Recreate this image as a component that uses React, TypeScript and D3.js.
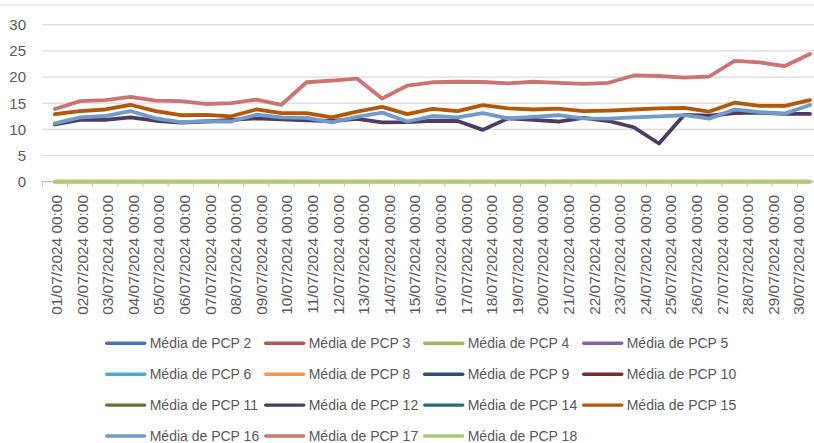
import React from "react";
import * as d3 from "d3";

const dates = [
  "01/07/2024 00:00", "02/07/2024 00:00", "03/07/2024 00:00", "04/07/2024 00:00",
  "05/07/2024 00:00", "06/07/2024 00:00", "07/07/2024 00:00", "08/07/2024 00:00",
  "09/07/2024 00:00", "10/07/2024 00:00", "11/07/2024 00:00", "12/07/2024 00:00",
  "13/07/2024 00:00", "14/07/2024 00:00", "15/07/2024 00:00", "16/07/2024 00:00",
  "17/07/2024 00:00", "18/07/2024 00:00", "19/07/2024 00:00", "20/07/2024 00:00",
  "21/07/2024 00:00", "22/07/2024 00:00", "23/07/2024 00:00", "24/07/2024 00:00",
  "25/07/2024 00:00", "26/07/2024 00:00", "27/07/2024 00:00", "28/07/2024 00:00",
  "29/07/2024 00:00", "30/07/2024 00:00", "31/07/2024 00:00",
];

const yTicks = [0, 5, 10, 15, 20, 25, 30];

const pcp4 = [0, 0, 0, 0, 0, 0, 0, 0, 0, 0, 0, 0, 0, 0, 0, 0, 0, 0, 0, 0, 0, 0, 0, 0, 0, 0, 0, 0, 0, 0, 0];
const pcp12 = [10.95, 11.8, 11.8, 12.3, 11.65, 11.3, 11.5, 11.8, 12.1, 11.9, 11.7, 11.6, 12.0, 11.35, 11.4, 11.65,
  11.6, 9.9, 12.1, 11.8, 11.5, 12.2, 11.6, 10.4, 7.3, 12.75, 12.6, 13.1, 13.2, 12.95, 12.95];
const pcp15 = [12.9, 13.5, 13.8, 14.7, 13.5, 12.7, 12.75, 12.5, 13.8, 13.1, 13.1, 12.3, 13.4, 14.3, 12.9, 13.9,
  13.5, 14.65, 14.0, 13.8, 13.95, 13.5, 13.6, 13.8, 14.0, 14.1, 13.4, 15.1, 14.5, 14.5, 15.6];
const pcp16 = [11.15, 12.3, 12.55, 13.5, 12.1, 11.4, 11.55, 11.5, 12.8, 12.3, 12.2, 11.35, 12.4, 13.2, 11.5, 12.55,
  12.3, 13.1, 12.1, 12.4, 12.7, 12.1, 12.05, 12.3, 12.5, 12.7, 12.05, 13.8, 13.3, 13.0, 14.65];
const pcp17 = [13.9, 15.4, 15.6, 16.2, 15.5, 15.4, 14.85, 15.0, 15.7, 14.7, 19.0, 19.3, 19.7, 15.9, 18.35, 19.0,
  19.1, 19.05, 18.8, 19.1, 18.9, 18.7, 18.9, 20.3, 20.2, 19.9, 20.1, 23.1, 22.8, 22.1, 24.4];
const pcp18 = [0, 0, 0, 0, 0, 0, 0, 0, 0, 0, 0, 0, 0, 0, 0, 0, 0, 0, 0, 0, 0, 0, 0, 0, 0, 0, 0, 0, 0, 0, 0];

// series with no values in this period
const empty: number[] = [];

const series = [
  { name: "Média de PCP 2", color: "#4472C4", values: empty },
  { name: "Média de PCP 3", color: "#C0504D", values: empty },
  { name: "Média de PCP 4", color: "#9BBB59", values: pcp4 },
  { name: "Média de PCP 5", color: "#8064A2", values: empty },
  { name: "Média de PCP 6", color: "#4BACC6", values: empty },
  { name: "Média de PCP 8", color: "#F79646", values: empty },
  { name: "Média de PCP 9", color: "#2C4D75", values: empty },
  { name: "Média de PCP 10", color: "#772C2A", values: empty },
  { name: "Média de PCP 11", color: "#5F7530", values: empty },
  { name: "Média de PCP 12", color: "#4D3B62", values: pcp12 },
  { name: "Média de PCP 14", color: "#276A7C", values: empty },
  { name: "Média de PCP 15", color: "#B65708", values: pcp15 },
  { name: "Média de PCP 16", color: "#729ACA", values: pcp16 },
  { name: "Média de PCP 17", color: "#CD7371", values: pcp17 },
  { name: "Média de PCP 18", color: "#AFC97A", values: pcp18 },
];

const W = 814, H = 443;
const left = 42.3, step = 25.17;
const font = "'Liberation Sans', Arial, sans-serif";

export default function App() {
  const x = d3.scaleBand<string>().domain(dates).range([left, left + step * dates.length]).padding(0);
  // Excel spreads the rotated labels a bit wider than the bands
  const xLabel = d3.scalePoint<string>().domain(dates).range([56.5, 56.5 + 25.6 * (dates.length - 1)]);
  const y = d3.scaleLinear().domain([0, 30]).range([181.7, 24.7]);

  const line = d3.line<number>()
    .x((d, i) => (x(dates[i]) as number) + x.bandwidth() / 2)
    .y(d => y(d));

  const legendCols = 4;
  const legX = d3.scaleLinear().domain([0, 1]).range([106.7, 265.7]);
  const legY = d3.scaleLinear().domain([0, 1]).range([343.3, 374.2]);

  return (
    <svg width={W} height={H} style={{ position: "absolute", left: 0, top: 0, background: "#fff" }}>
      <line x1={0} x2={W} y1={5} y2={5} stroke="#D9D9D9" strokeWidth={1} />
      {yTicks.map(t => (
        <g key={t}>
          {t > 0 && <line x1={left} x2={W} y1={y(t)} y2={y(t)} stroke="#D9D9D9" strokeWidth={1.3} />}
          <text x={26} y={y(t)} dy="0.36em" textAnchor="end" fontFamily={font} fontSize={15} fill="#595959">{t}</text>
        </g>
      ))}
      <line x1={left} x2={W} y1={y(0)} y2={y(0)} stroke="#BFBFBF" strokeWidth={1.3} />
      {dates.map(d => (
        <line key={"t" + d} x1={x(d)} x2={x(d)} y1={y(0)} y2={y(0) + 5} stroke="#BFBFBF" strokeWidth={1} />
      ))}
      {dates.filter(d => (xLabel(d) as number) + 8 < W).map(d => (
        <text key={"l" + d} transform={`translate(${xLabel(d)},195) rotate(-90)`} dy="0.36em" textAnchor="end"
          fontFamily={font} fontSize={15.4} fill="#595959">{d}</text>
      ))}
      {series.filter(s => s.values.length > 0).map(s => (
        <path key={s.name} d={line(s.values) || ""} fill="none" stroke={s.color} strokeWidth={3.8}
          strokeLinejoin="round" strokeLinecap="round" />
      ))}
      {series.map((s, i) => {
        const cx = legX(i % legendCols);
        const cy = legY(Math.floor(i / legendCols));
        return (
          <g key={"leg" + s.name}>
            <line x1={cx} x2={cx + 38} y1={cy} y2={cy} stroke={s.color} strokeWidth={3.4} strokeLinecap="round" />
            <text x={cx + 43} y={cy + 5} fontFamily={font} fontSize={14} fill="#595959">{s.name}</text>
          </g>
        );
      })}
    </svg>
  );
}
